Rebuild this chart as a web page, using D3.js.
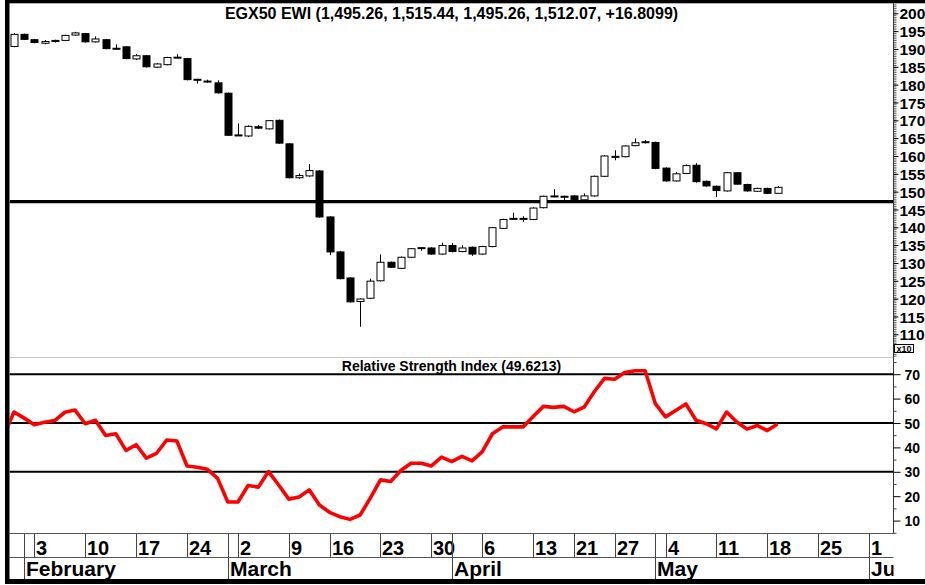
<!DOCTYPE html>
<html><head><meta charset="utf-8">
<script src="https://cdn.jsdelivr.net/npm/d3@7"></script>
<style>
body{margin:0;background:#fff}
svg{display:block}
text{font-family:"Liberation Sans",Arial,Helvetica,sans-serif;font-weight:bold;fill:#000}
</style>
</head><body>
<svg id="chart" width="925" height="585"></svg>
<script>
// ---------- data ----------
const dates = [
"2020-01-29","2020-01-30",
"2020-02-02","2020-02-03","2020-02-04","2020-02-05","2020-02-06",
"2020-02-09","2020-02-10","2020-02-11","2020-02-12","2020-02-13",
"2020-02-16","2020-02-17","2020-02-18","2020-02-19","2020-02-20",
"2020-02-23","2020-02-24","2020-02-25","2020-02-26","2020-02-27",
"2020-03-01","2020-03-02","2020-03-03","2020-03-04","2020-03-05",
"2020-03-08","2020-03-09","2020-03-10","2020-03-11",
"2020-03-15","2020-03-16","2020-03-17","2020-03-18","2020-03-19",
"2020-03-22","2020-03-23","2020-03-24","2020-03-25","2020-03-26",
"2020-03-29","2020-03-30","2020-03-31","2020-04-01","2020-04-02",
"2020-04-05","2020-04-06","2020-04-07","2020-04-08","2020-04-09",
"2020-04-12","2020-04-13","2020-04-14","2020-04-15","2020-04-16",
"2020-04-21","2020-04-22","2020-04-23",
"2020-04-26","2020-04-27","2020-04-28","2020-04-29","2020-04-30",
"2020-05-03","2020-05-04","2020-05-05","2020-05-06","2020-05-07",
"2020-05-10","2020-05-11","2020-05-12","2020-05-13","2020-05-14",
"2020-05-17","2020-05-18","2020-05-19"];
const futureDates = ["2020-05-20","2020-05-21","2020-05-24","2020-05-25","2020-05-26","2020-05-27","2020-05-28","2020-05-31","2020-06-01","2020-06-02","2020-06-03"];

const open = [null,1907,1941,1926,1916,1921,1924,1939,1943,1920,1926,1902,1906,1872,1881,1849,1856,1875,1873,1815,1810,1805,1776,1659,1656,1682,1676,1700,1634,1539,1544,1558,1429,1331,1258,1192,1201,1250,1302,1285,1316,1341,1342,1325,1349,1332,1344,1325,1346,1397,1424,1423,1422,1455,1486,1485,1488,1477,1488,1543,1596,1598,1629,1638,1638,1566,1530,1551,1574,1529,1515,1502,1553,1520,1501,1509,1495.26];
const high = [null,1944,1943,1928,1925,1926,1940,1948,1945,1935,1928,1913,1908,1886,1883,1860,1878,1885,1875,1816,1814,1812,1778,1691,1686,1687,1701,1702,1636,1551,1577,1560,1431,1333,1260,1201,1256,1324,1304,1318,1342,1344,1344,1357,1356,1350,1346,1348,1401,1424,1441,1431,1456,1489,1507,1489,1490,1495,1545,1602,1616,1630,1649,1645,1640,1568,1555,1576,1580,1531,1517,1555,1555,1522,1511,1511,1515.44];
const low = [null,1905,1925,1916,1913,1918,1922,1937,1918,1918,1899,1899,1871,1869,1848,1847,1854,1873,1812,1803,1805,1775,1656,1656,1653,1676,1674,1634,1537,1536,1542,1427,1322,1254,1189,1121,1199,1248,1286,1283,1314,1334,1323,1323,1330,1330,1320,1323,1344,1395,1422,1415,1420,1453,1484,1476,1475,1475,1486,1541,1588,1596,1627,1635,1563,1528,1528,1549,1525,1514,1485,1500,1519,1500,1499,1493,1495.26];
const close = [null,1941,1927,1918,1921,1924,1938,1945,1920,1928,1901,1900,1873,1881,1850,1858,1876,1877,1814,1813,1808,1777,1658,1657,1683,1678,1699,1636,1539,1545,1559,1429,1331,1256,1191,1199,1249,1302,1288,1316,1340,1343,1325,1349,1332,1342,1325,1346,1399,1422,1425,1425,1454,1487,1488,1487,1477,1488,1543,1600,1599,1628,1637,1640,1565,1530,1550,1573,1528,1516,1503,1553,1521,1502,1509,1495.26,1512.07];
const rsi = [45,54.5,52,49.3,50.3,51,54.4,55.3,49.7,51.1,44.9,45.6,38.8,41.1,35.6,37.6,43,42.6,32.4,31.9,31,27.3,17.6,17.6,24.4,23.7,30.1,24.6,18.8,19.7,22.6,16.4,13.4,11.6,10.5,12.3,19.2,26.7,26,30.5,33.5,33.5,32.4,36,34.2,36.3,34.5,38.3,45.6,48.4,48.4,48.4,52.7,56.8,56.4,56.8,54.6,56.5,62.8,68.3,67.9,70.7,71.4,71.4,57.9,52.5,55.1,57.8,51.1,49.7,47.6,54.5,50.4,47.5,49,46.9,49.62];

const priceTicks = d3.range(1100, 2001, 50);
const priceMinorTicks = d3.range(1040, 2031, 5);
const rsiTicks = [10,20,30,40,50,60,70];
const rsiMinorTicks = [5,15,25,35,45,55,65,75];
const rsiLevels = [70,50,30];
const supportLevel = 1472;
const weekTicks = ["2020-02-03","2020-02-10","2020-02-17","2020-02-24","2020-03-02","2020-03-09","2020-03-16","2020-03-23","2020-03-30","2020-04-06","2020-04-13","2020-04-21","2020-04-27","2020-05-04","2020-05-11","2020-05-18","2020-05-25","2020-06-01"];
const monthTicks = ["2020-02-02","2020-03-01","2020-04-01","2020-05-03","2020-06-01"];
const monthNames = ["February","March","April","May","June"];
const title = "EGX50 EWI (1,495.26, 1,515.44, 1,495.26, 1,512.07, +16.8099)";
const rsiTitle = "Relative Strength Index (49.6213)";

// ---------- layout ----------
const L = 9.5, R = 893.5;
const pTop = 3.3, pBot = 357.5, rTop = 357.5, rBot = 533.5, dBot = 557.5, mBot = 579;

const svg = d3.select("#chart");
const allDates = dates.concat(futureDates);
const x = d3.scalePoint().domain(allDates).range([3.82, 3.82 + (allDates.length - 1) * 10.18]);
const y = d3.scaleLinear().domain([1100, 2000]).range([334.3, 13.3]);
const yr = d3.scaleLinear().domain([10, 70]).range([520.6, 374.2]);

const defs = svg.append("defs");
defs.append("clipPath").attr("id","cp").append("rect").attr("x",L).attr("y",pTop).attr("width",R-L).attr("height",pBot-pTop);
defs.append("clipPath").attr("id","cr").append("rect").attr("x",L).attr("y",rTop+0.5).attr("width",R-L).attr("height",rBot-rTop-0.5);
defs.append("clipPath").attr("id","cx").append("rect").attr("x",L).attr("y",rBot).attr("width",R-L).attr("height",mBot-rBot);

svg.append("rect").attr("width",925).attr("height",585).attr("fill","#fff");

// panel separators
svg.append("line").attr("x1",L).attr("x2",R).attr("y1",pBot).attr("y2",pBot).attr("stroke","#c8c8c8");
svg.append("line").attr("x1",L).attr("x2",R).attr("y1",rBot).attr("y2",rBot).attr("stroke","#555");
svg.append("line").attr("x1",L).attr("x2",R).attr("y1",dBot).attr("y2",dBot).attr("stroke","#555");

// ---------- price panel ----------
const gp = svg.append("g").attr("clip-path","url(#cp)");
gp.append("line").attr("x1",L).attr("x2",R).attr("y1",y(supportLevel)).attr("y2",y(supportLevel))
  .attr("stroke","#000").attr("stroke-width",3.4);

const idx = d3.range(dates.length).filter(i => open[i] !== null);
const cw = 8;
const cg = gp.append("g");
idx.forEach(i => {
  const cx = Math.round(x(dates[i])) + 0.5;
  const up = close[i] >= open[i];
  cg.append("line").attr("x1",cx).attr("x2",cx).attr("y1",y(high[i])).attr("y2",y(low[i]))
    .attr("stroke","#000").attr("stroke-width",1);
  const top = y(Math.max(open[i],close[i])), bot = y(Math.min(open[i],close[i]));
  const h = Math.max(bot - top, 1);
  cg.append("rect").attr("x",cx - cw/2 + 0.5).attr("y",top).attr("width",cw-1).attr("height",h)
    .attr("fill", up ? "#fff" : "#000").attr("stroke","#000").attr("stroke-width",1);
});

// price axis
const pAxis = d3.axisRight(y).tickValues(priceTicks).tickSize(5).tickPadding(1).tickFormat(d => d/10);
const pMinor = d3.axisRight(y).tickValues(priceMinorTicks.filter(v => y(v) > pTop && y(v) < pBot)).tickSize(3).tickFormat("");
const ga = svg.append("g").attr("transform",`translate(${R},0)`);
ga.append("g").call(pMinor).call(g => g.select(".domain").remove()).selectAll("line").attr("stroke","#666");
ga.append("g").call(pAxis).call(g => g.select(".domain").remove())
  .call(g => g.selectAll("text").attr("font-size",15.5).attr("font-family",null).attr("fill","#000").attr("dy","0.36em"))
  .call(g => g.selectAll("line").attr("stroke","#000"));
svg.append("line").attr("x1",R).attr("x2",R).attr("y1",pTop).attr("y2",rBot).attr("stroke","#333");

// x10 box
svg.append("rect").attr("x",894.5).attr("y",344.5).attr("width",19).attr("height",8).attr("fill","#fff").attr("stroke","#000");
svg.append("text").attr("x",904).attr("y",351.8).attr("text-anchor","middle").attr("font-size",9).text("x10");

// ---------- RSI panel ----------
const gr = svg.append("g").attr("clip-path","url(#cr)");
gr.selectAll("line.lvl").data(rsiLevels).join("line").attr("class","lvl")
  .attr("x1",L).attr("x2",R).attr("y1",d=>yr(d)).attr("y2",d=>yr(d)).attr("stroke","#000").attr("stroke-width",2);
gr.append("path").datum(d3.range(dates.length))
  .attr("d", d3.line().x(i => x(dates[i])).y(i => yr(rsi[i])))
  .attr("fill","none").attr("stroke","#ff0000").attr("stroke-width",3.6).attr("stroke-linejoin","round");

const rAxis = d3.axisRight(yr).tickValues(rsiTicks).tickSize(7).tickPadding(4);
const rMinor = d3.axisRight(yr).tickValues(rsiMinorTicks.filter(v => yr(v) > rTop && yr(v) < rBot)).tickSize(3).tickFormat("");
const gra = svg.append("g").attr("transform",`translate(${R},0)`);
gra.append("g").call(rMinor).call(g => g.select(".domain").remove()).selectAll("line").attr("stroke","#444");
gra.append("g").call(rAxis).call(g => g.select(".domain").remove())
  .call(g => g.selectAll("text").attr("font-size",14).attr("font-family",null).attr("fill","#000").attr("dy","0.36em"))
  .call(g => g.selectAll("line").attr("stroke","#000"));

// titles
svg.append("text").attr("x",451.5).attr("y",18.5).attr("text-anchor","middle").attr("font-size",16).text(title);
svg.append("text").attr("x",451.5).attr("y",370.5).attr("text-anchor","middle").attr("font-size",14).text(rsiTitle);

// ---------- date axis ----------
const gx = svg.append("g").attr("clip-path","url(#cx)");
weekTicks.forEach(d => {
  const px = Math.round(x(d)) + 0.5;
  gx.append("line").attr("x1",px).attr("x2",px).attr("y1",rBot).attr("y2",dBot).attr("stroke","#444");
  gx.append("text").attr("x",px+1.5).attr("y",554.5).attr("font-size",20).text(+d.slice(8));
});
monthTicks.forEach((d,k) => {
  const px = Math.round(x(d)) + 0.5;
  gx.append("line").attr("x1",px).attr("x2",px).attr("y1",rBot).attr("y2",mBot).attr("stroke","#444");
  gx.append("text").attr("x",px+1.5).attr("y",575.5).attr("font-size",21).text(monthNames[k]);
});

// frame borders
svg.append("rect").attr("x",5).attr("y",0).attr("width",920).attr("height",3.3).attr("fill","#000");
svg.append("rect").attr("x",5).attr("y",0).attr("width",4.5).attr("height",584).attr("fill","#000");
svg.append("rect").attr("x",5).attr("y",579).attr("width",920).attr("height",5).attr("fill","#000");
</script>
</body></html>
